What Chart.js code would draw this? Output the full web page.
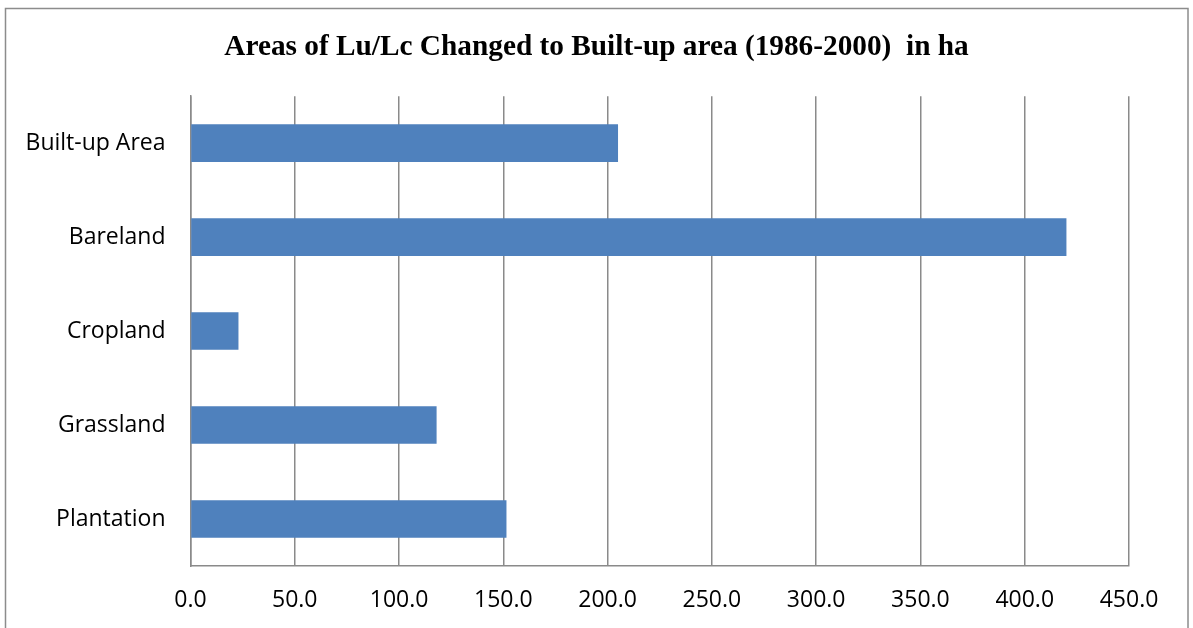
<!DOCTYPE html>
<html>
<head>
<meta charset="utf-8">
<script src="https://cdn.jsdelivr.net/npm/chart.js@4/dist/chart.umd.min.js"></script>
<style>
  html, body { margin:0; padding:0; background:#fff; overflow:hidden; }
  #wrap { width:1193px; height:628px; position:relative; }
</style>
</head>
<body>
<div id="wrap"><canvas id="c" width="1193" height="628"></canvas></div>
<script>
// land use / land cover classes converted to built-up area, hectares
const categories = ['Built-up Area', 'Bareland', 'Cropland', 'Grassland', 'Plantation'];
const areaHa = [205, 420, 23, 118, 151.5];
const xMin = 0, xMax = 450, xStep = 50;

// thin grey frame round the whole chart, like the original export
const frame = {
  id: 'frame',
  afterDraw(chart){
    const g = chart.ctx;
    g.save();
    g.strokeStyle = '#8c8c8c';
    g.lineWidth = 1.5;
    g.strokeRect(5.5, 8.5, 1182.5, 640);
    g.restore();
  }
};

const tickFont = { family: '"Open Sans", "Noto Sans", sans-serif', size: 23 };

new Chart(document.getElementById('c'), {
  type: 'bar',
  data: {
    labels: categories,
    datasets: [{
      data: areaHa,
      backgroundColor: '#4f81bd',
      borderWidth: 0,
      categoryPercentage: 0.8,
      barPercentage: 0.5
    }]
  },
  options: {
    indexAxis: 'y',
    responsive: false,
    animation: false,
    events: [],
    layout: { padding: 0 },
    plugins: {
      legend: { display: false },
      tooltip: { enabled: false },
      title: {
        display: true,
        text: 'Areas of Lu/Lc Changed to Built-up area (1986-2000)  in ha',
        color: '#000',
        font: { family: '"Liberation Serif", "Times New Roman", serif', size: 29.3, weight: 'bold', lineHeight: 1.2 },
        padding: { top: 30, bottom: 31 }
      }
    },
    scales: {
      x: {
        min: xMin, max: xMax,
        ticks: {
          stepSize: xStep,
          color: '#000',
          font: tickFont,
          padding: 21,
          callback: v => Number(v).toFixed(1)
        },
        grid: { color: '#8a8a8a', lineWidth: 1.5, drawTicks: false },
        border: { display: true, color: '#8a8a8a', width: 1.5 },
        // fixed height, and room on the right so the plot ends at 450 like the original
        afterFit: s => { s.height = 62; s.paddingRight = 64; }
      },
      y: {
        ticks: { color: '#000', font: tickFont, padding: 25 },
        grid: { display: false, drawTicks: false },
        border: { display: true, color: '#8a8a8a', width: 1.5 },
        afterFit: s => { s.width = 190.5; }
      }
    }
  },
  plugins: [frame]
});
</script>
</body>
</html>
